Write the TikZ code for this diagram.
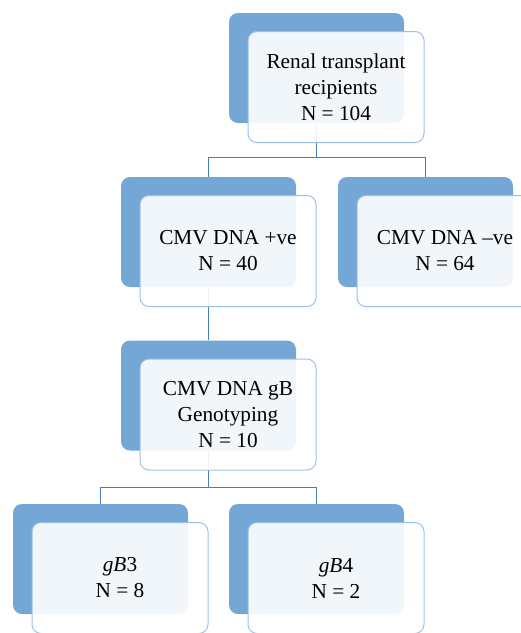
\documentclass[tikz,border=0pt]{standalone}
\usepackage{fontspec}
\setmainfont{Liberation Serif}
\usepackage{tikz}
\definecolor{boxblue}{RGB}{116,166,214}
\definecolor{edgeblue}{RGB}{157,192,230}
\definecolor{lineblue}{RGB}{74,126,187}

\begin{document}
\begin{tikzpicture}[
    x=1pt,y=1pt,
    back/.style={fill=boxblue,rounded corners=9pt,inner sep=0pt,minimum width=175pt,minimum height=110pt},
    front/.style={draw=edgeblue,line width=1pt,fill=white,fill opacity=0.9,text opacity=1,rounded corners=9pt,
        inner sep=0pt,minimum width=176pt,minimum height=111pt,align=center,
        font=\fontsize{21.3}{26}\selectfont,xshift=19.5,yshift=-19},
    link/.style={draw=lineblue,line width=1.3pt},
]
    \useasboundingbox (0,0) rectangle (521,-633);
    \clip (0,0) rectangle (521,-633);

    %back boxes
    \node[back] (b1) at (316.5,-68) {};
    \node[back] (b2) at (208.5,-232) {};
    \node[back] (b3) at (425.5,-232) {};
    \node[back] (b4) at (208.5,-395.5) {};
    \node[back] (b5) at (100.5,-559) {};
    \node[back] (b6) at (316.5,-559) {};

    %connectors
    \draw[link] (b1.south) -- ++(0,-34) -| (b2.north);
    \draw[link] (b1.south) ++(0,-34) -| (b3.north);
    \draw[link] (b2.south) -- (b4.north);
    \draw[link] (b4.south) -- ++(0,-37) -| (b5.north);
    \draw[link] (b4.south) ++(0,-37) -| (b6.north);

    %front boxes
    \node[front] (f1) at (b1) {Renal transplant\\recipients\\N = 104};
    \node[front] (f2) at (b2) {CMV DNA +ve\\N = 40};
    \node[front] (f3) at (b3) {CMV DNA –ve\\N = 64};
    \node[front] (f4) at (b4) {CMV DNA gB\\Genotyping\\N = 10};
    \node[front] (f5) at (b5) {\textit{gB}3\\N = 8};
    \node[front] (f6) at (b6) {\textit{gB}4\\N = 2};
\end{tikzpicture}
\end{document}
